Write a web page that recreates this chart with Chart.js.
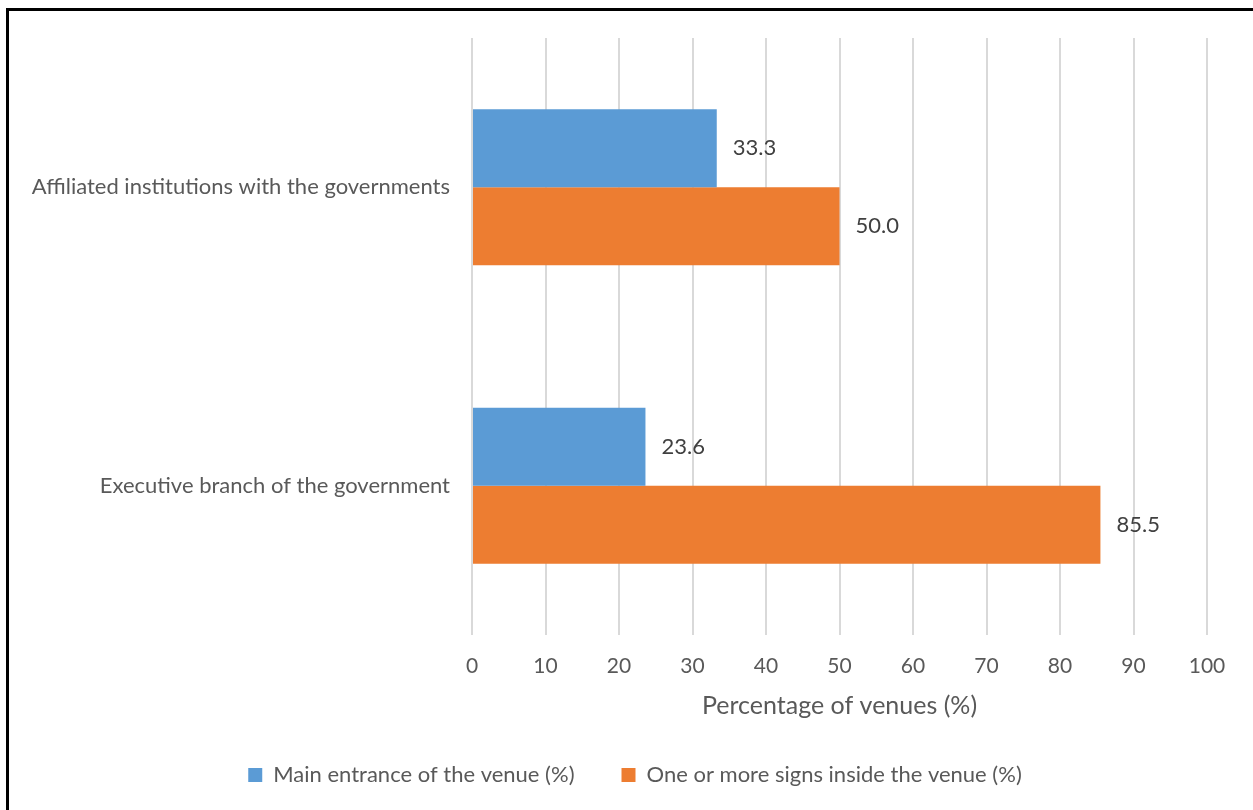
<!DOCTYPE html>
<html>
<head>
<meta charset="utf-8">
<script src="https://cdn.jsdelivr.net/npm/chart.js@4.4.0/dist/chart.umd.min.js"></script>
<style>
  html, body { margin: 0; padding: 0; background: #fff; overflow: hidden; }
  #wrap { position: relative; width: 1253px; height: 810px; }
  #frame {
    position: absolute; left: 6px; top: 8px; width: 1400px; height: 1000px;
    border-left: 3px solid #000; border-top: 3px solid #000; pointer-events: none;
  }
  canvas { position: absolute; left: 0; top: 0; }
</style>
</head>
<body>
<div id="wrap">
  <canvas id="chart" width="1253" height="810"></canvas>
  <div id="frame"></div>
</div>
<script>
const categories = ['Affiliated institutions with the governments', 'Executive branch of the government'];
const seriesNames = ['Main entrance of the venue (%)', 'One or more signs inside the venue (%)'];
const mainEntrance = [33.3, 23.6];
const signsInside = [50.0, 85.5];
const xTicks = [0, 10, 20, 30, 40, 50, 60, 70, 80, 90, 100];

const FONT = 'Lato, Carlito, Calibri, sans-serif';
const GRAY = '#595959';

// writes the value just right of each bar
const valueLabels = {
    id: 'valueLabels',
    afterLayout(chart) {
        // center the legend the way the original does (a bit right of page middle)
        chart.legend.left = 63;
    },
    afterDatasetsDraw(chart) {
        const ctx = chart.ctx;
        ctx.save();
        ctx.font = '22px ' + FONT;
        ctx.fillStyle = '#404040';
        ctx.textAlign = 'left';
        ctx.textBaseline = 'middle';
        chart.data.datasets.forEach((ds, i) => {
            chart.getDatasetMeta(i).data.forEach((bar, j) => {
                ctx.fillText(ds.data[j].toFixed(1), bar.x + 16, bar.y);
            });
        });
        ctx.restore();
    }
};

const ctx = document.getElementById('chart').getContext('2d');
new Chart(ctx, {
    type: 'bar',
    data: {
        labels: categories,
        datasets: [
            {
                label: seriesNames[0],
                data: mainEntrance,
                backgroundColor: '#5B9BD5',
                borderWidth: 0,
            },
            {
                label: seriesNames[1],
                data: signsInside,
                backgroundColor: '#ED7D31',
                borderWidth: 0,
            },
        ],
    },
    options: {
        indexAxis: 'y',
        responsive: false,
        animation: false,
        categoryPercentage: 0.523,
        barPercentage: 1,
        layout: { padding: { top: 38, right: 46, left: 0, bottom: 14 } },
        scales: {
            x: {
                min: 0,
                max: 100,
                afterBuildTicks(scale) {
                    scale.ticks = xTicks.map(v => ({ value: v }));
                },
                afterFit(scale) { scale.height = 82; },
                grid: { color: '#d9d9d9', lineWidth: 2, drawTicks: false },
                border: { display: false },
                ticks: { color: GRAY, font: { family: FONT, size: 21 }, padding: 19 },
                title: {
                    display: true,
                    text: 'Percentage of venues (%)',
                    color: GRAY,
                    font: { family: FONT, size: 25 },
                    padding: { top: 0, bottom: -4 },
                },
            },
            y: {
                afterFit(scale) { scale.width = 472; },
                grid: { display: false, drawTicks: false },
                border: { display: false },
                ticks: { color: GRAY, font: { family: FONT, size: 22 }, padding: 22 },
            },
        },
        plugins: {
            legend: {
                position: 'bottom',
                labels: {
                    boxWidth: 14,
                    boxHeight: 14,
                    padding: 47,
                    color: GRAY,
                    font: { family: FONT, size: 22 },
                },
            },
            tooltip: { enabled: false },
        },
    },
    plugins: [valueLabels],
});
</script>
</body>
</html>
